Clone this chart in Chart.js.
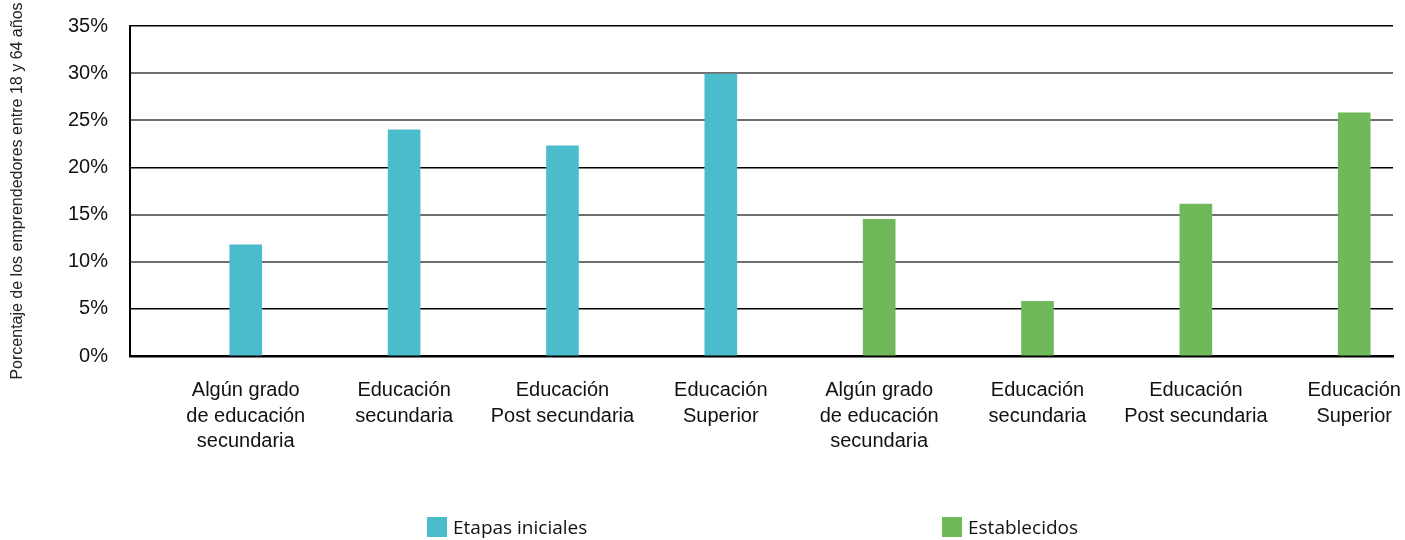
<!DOCTYPE html>
<html>
<head>
<meta charset="utf-8">
<script src="https://cdn.jsdelivr.net/npm/chart.js@4/dist/chart.umd.min.js"></script>
<style>
  html, body { margin: 0; padding: 0; background: #fff; width: 1405px; height: 540px; overflow: hidden; }
  #wrap { position: relative; width: 1405px; height: 540px; }
  #c { position: absolute; left: 0; top: 0; }
  .leg { position: absolute; top: 516px; height: 21px; display: flex; align-items: center;
         font-family: "Open Sans", "Noto Sans", sans-serif; font-size: 19px; color: #111; }
  .leg .box { width: 20px; height: 20px; margin-right: 6px; }
</style>
</head>
<body>
<div id="wrap">
  <canvas id="c" width="1405" height="540"></canvas>
  <div class="leg" id="leg1" style="left:427px;"><span class="box" style="background:#4ABCCC"></span><span>Etapas iniciales</span></div>
  <div class="leg" id="leg2" style="left:942px;"><span class="box" style="background:#70B95B"></span><span>Establecidos</span></div>
</div>
<script>
const categories = [
  ["Algún grado", "de educación", "secundaria"],
  ["Educación", "secundaria"],
  ["Educación", "Post secundaria"],
  ["Educación", "Superior"],
  ["Algún grado", "de educación", "secundaria"],
  ["Educación", "secundaria"],
  ["Educación", "Post secundaria"],
  ["Educación", "Superior"]
];
const etapasIniciales = [11.8, 24.0, 22.3, 29.9, null, null, null, null];
const establecidos    = [null, null, null, null, 14.5, 5.8, 16.1, 25.8];
const yTicks = [0, 5, 10, 15, 20, 25, 30, 35];
const seriesNames = ["Etapas iniciales", "Establecidos"];
const yTitle = "Porcentaje de los emprendedores entre 18 y 64 años";

const toPoints = arr => arr.map((v, i) => ({x: i, y: v})).filter(p => p.y !== null);

const blackLines = [35, 20, 5, 0];

new Chart(document.getElementById('c'), {
  type: 'bar',
  data: {
    datasets: [
      { label: seriesNames[0], data: toPoints(etapasIniciales), backgroundColor: '#4ABCCC', barThickness: 32, grouped: false },
      { label: seriesNames[1], data: toPoints(establecidos), backgroundColor: '#70B95B', barThickness: 32, grouped: false }
    ]
  },
  options: {
    responsive: false,
    animation: false,
    layout: { padding: { top: 26, right: 12, left: 0, bottom: 0 } },
    plugins: { legend: { display: false }, tooltip: { enabled: false } },
    scales: {
      x: {
        type: 'linear',
        offset: false,
        min: -0.731,
        max: 7.245,
        grid: { display: false, drawTicks: false, offset: false },
        border: { display: true, color: '#000', width: 2.5 },
        afterBuildTicks: s => { s.ticks = categories.map((c, i) => ({ value: i })); },
        afterFit: s => { s.height = 184; s.paddingLeft = 0; s.paddingRight = 0; },
        ticks: {
          autoSkip: false,
          maxRotation: 0,
          minRotation: 0,
          padding: 22,
          color: '#111',
          font: { family: 'Liberation Sans, Arial, sans-serif', size: 20, lineHeight: 1.27 },
          callback: v => categories[Math.round(v)] || ''
        }
      },
      y: {
        min: 0,
        max: 35,
        afterBuildTicks: s => { s.ticks = yTicks.map(v => ({ value: v })); },
        afterFit: s => { s.width = 130; s.paddingTop = 0; s.paddingBottom = 0; },
        grid: {
          drawTicks: false,
          color: ctx => blackLines.includes(ctx.tick.value) ? '#000' : '#6f6f6f',
          lineWidth: ctx => blackLines.includes(ctx.tick.value) ? 1.5 : 2
        },
        border: { display: true, color: '#000', width: 2 },
        ticks: {
          padding: 22,
          color: '#111',
          font: { family: 'Liberation Sans, Arial, sans-serif', size: 20 },
          callback: v => v + '%'
        },
        title: {
          display: true,
          text: yTitle,
          color: '#222',
          padding: { top: 8, bottom: 0 },
          font: { family: 'Liberation Sans, Arial, sans-serif', size: 16 }
        }
      }
    }
  }
});
</script>
</body>
</html>
